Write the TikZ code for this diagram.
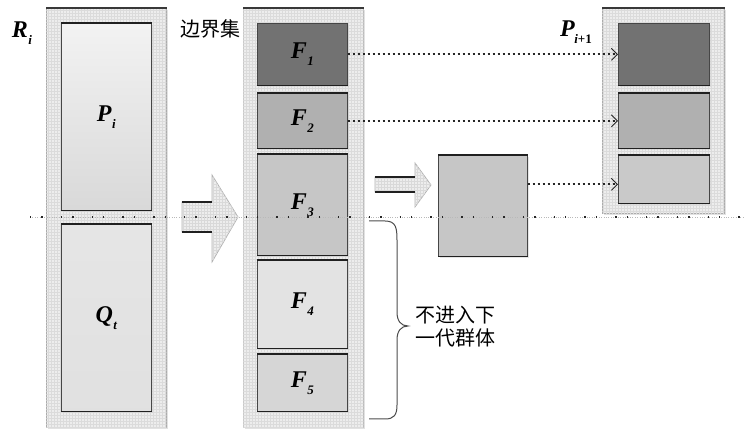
\documentclass[tikz,border=0pt]{standalone}
\usepackage{fontspec}
\setmainfont{Liberation Serif}
\newfontfamily\cjk{Noto Sans CJK SC}
\usetikzlibrary{patterns,arrows.meta,shadows}
\newcommand\sublab[2]{{\fontsize{24}{24}\selectfont\bfseries\itshape #1}\kern0.5pt\raisebox{-7pt}{\fontsize{13}{13}\selectfont\bfseries\itshape #2}}
\begin{document}
\begin{tikzpicture}[x=1pt,y=-1pt,
  container/.style={draw=gray!65, fill=gray!14, line width=0.8pt, anchor=north west, inner sep=0pt,
    drop shadow={shadow xshift=2pt, shadow yshift=-2pt, fill=gray!45},
    postaction={pattern=grid, pattern color=gray!28}},
  inner/.style={draw=gray!55!black, line width=0.6pt, anchor=north west, inner sep=0pt, minimum width=90pt,
    drop shadow={shadow xshift=1.5pt, shadow yshift=-1.5pt, fill=gray!40}},
  edge/.style={line width=1.8pt, draw=gray!25!black},
  fatarrow/.style={draw=gray!60, line width=0.8pt, fill=gray!14, postaction={pattern=grid, pattern color=gray!30}},
  link/.style={draw=gray!30!black, line width=1.8pt, dash pattern=on 2.4pt off 2.6pt, -{Straight Barb[length=6pt,width=12pt,line width=0.9pt]}},
  cjklab/.style={font=\cjk\fontsize{20}{23}\selectfont, inner sep=0pt}
]
\useasboundingbox (0,0) rectangle (745,430);

% containers
\node[container, minimum width=120pt, minimum height=419pt] (L) at (46,8) {};
\node[container, minimum width=120pt, minimum height=419pt] (M) at (243,8) {};
\node[container, minimum width=122pt, minimum height=205pt] (R) at (602,8) {};
\foreach \c in {L,M,R}{\draw[gray!45!black, line width=1.2pt] (\c.north west) -- (\c.north east);}

% left inner boxes
\node[inner, minimum height=187pt, top color=gray!10, bottom color=gray!30] (P) at (61,23) {\sublab{P}{i}};
\node[inner, minimum height=187pt, top color=gray!20, bottom color=gray!24] (Q) at (61,224) {\sublab{Q}{t}};

% middle inner boxes
\node[inner, minimum height=62pt, fill=gray!62!black!80] (F1) at (257,23) {\sublab{F}{1}};
\node[inner, minimum height=55pt, fill=gray!62] (F2) at (257,93) {\sublab{F}{2}};
\node[inner, minimum height=101pt, fill=gray!45] (F3) at (257,154) {\sublab{F}{3}};
\node[inner, minimum height=88pt, fill=gray!22] (F4) at (257,260) {\sublab{F}{4}};
\node[inner, minimum height=57pt, fill=gray!32] (F5) at (257,354) {\sublab{F}{5}};

% stand-alone box
\node[inner, minimum width=89pt, minimum height=101pt, fill=gray!45] (B) at (438,155) {};

% right inner boxes
\node[inner, minimum width=91pt, minimum height=62pt, fill=gray!62!black!80] (R1) at (618,23) {};
\node[inner, minimum width=91pt, minimum height=55pt, fill=gray!62] (R2) at (618,93) {};
\node[inner, minimum width=91pt, minimum height=48pt, fill=gray!42] (R3) at (618,155) {};

% dark edges
\foreach \b in {P,Q,F2,F3,F4,F5,B,R2,R3}{
  \draw[edge] (\b.north west) -- (\b.north east);
  \draw[edge] (\b.south west) -- (\b.south east);
}
\draw[edge, line width=1pt] (F1.south west) -- (F1.south east);
\draw[edge, line width=1pt] (R1.south west) -- (R1.south east);

% fat arrows
\draw[fatarrow] (182,202) -- (212,202) -- (212,175) -- (238,217) -- (212,262) -- (212,232) -- (182,232) -- cycle;
\draw[edge, line width=1.4pt] (182,202) -- (212,202);
\draw[edge, line width=1.4pt] (182,232) -- (212,232);
\draw[fatarrow] (375,177) -- (415,177) -- (415,163) -- (431,185) -- (415,207) -- (415,192) -- (375,192) -- cycle;
\draw[edge, line width=1.4pt] (375,177) -- (415,177);
\draw[edge, line width=1.4pt] (375,192) -- (415,192);

% horizontal dotted line
\coordinate (hl) at (30,217);
\coordinate (hr) at (745,217);
\draw[gray!55, line width=0.8pt, dash pattern=on 1pt off 1.4pt] (hl) -- (hr);
\draw[gray!30!black, line width=1.4pt, dash pattern=on 1.4pt off 10pt on 1.4pt off 18pt] (hl) -- (hr);

% links
\draw[link] (F1.east) -- (R1.west);
\draw[link] (F2.east) -- (R2.west);
\draw[link] ([yshift=21.5pt]B.east) -- ([yshift=-5pt]R3.west);

% brace
\coordinate (bt) at (369,221);
\coordinate (bb) at (369,419);
\draw[gray!60!black, line width=1pt] (bt) -- (385,221) .. controls (396,221) and (397,228) .. (397,240)
  -- (397,312) .. controls (397,321) and (401,326) .. (408,326)
  .. controls (401,326) and (397,331) .. (397,340)
  -- (397,405) .. controls (397,415) and (394,419) .. (385,419) -- (bb);

% labels
\node[inner sep=0pt] (Rlab) at (22,33) {\sublab{R}{i}};
\node[cjklab] (bj) at (210,29) {边界集};
\node[inner sep=0pt] (Plab) at (576,32) {\sublab{P}{\kern-1pt i\textup{+1}}};
\node[cjklab, anchor=west, align=left] (nt) at (415,327) {不进入下\\一代群体};
\end{tikzpicture}
\end{document}
